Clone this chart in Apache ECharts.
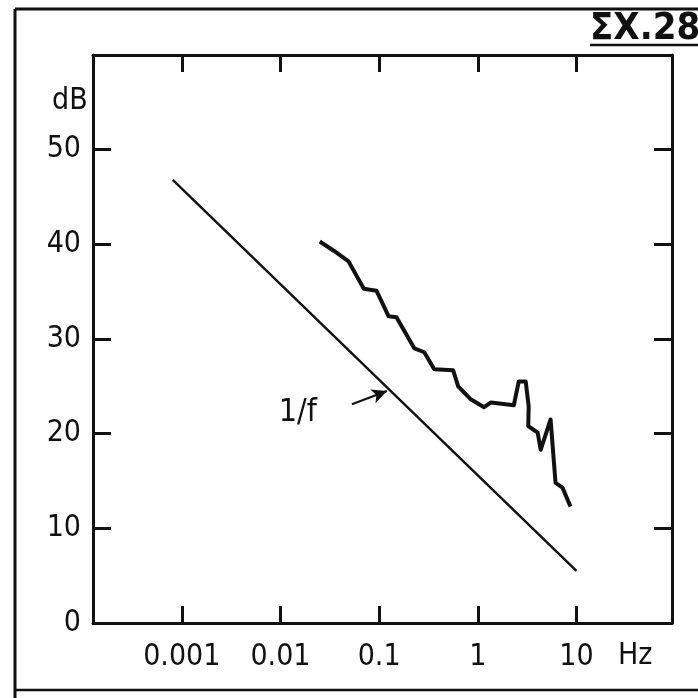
<!DOCTYPE html>
<html>
<head>
<meta charset="utf-8">
<script src="https://cdn.jsdelivr.net/npm/echarts@6/dist/echarts.min.js"></script>
<style>
html, body { margin: 0; padding: 0; background: #fff; }
#chart { width: 698px; height: 698px; }
</style>
</head>
<body>
<div id="chart"></div>
<script>
// measured noise spectrum (Hz, dB)
var noiseFreq = [0.025, 0.035, 0.049, 0.070, 0.094, 0.125, 0.150, 0.228, 0.287, 0.362, 0.563, 0.633, 0.855, 1.16, 1.36, 2.32, 2.60, 3.06, 3.28, 3.25, 4.05, 4.34, 5.47, 6.14, 7.22, 8.7];
var noiseDb   = [40.3, 39.3, 38.2, 35.3, 35.1, 32.4, 32.3, 29.0, 28.6, 26.8, 26.7, 25.0, 23.6, 22.8, 23.3, 23.0, 25.5, 25.5, 22.9, 20.8, 20.1, 18.3, 21.5, 14.8, 14.3, 12.3];
// 1/f reference line
var refFreq = [0.00081, 10];
var refDb   = [46.8, 5.5];
// arrow pointing at the 1/f line
var arrowFreq = [0.053, 0.12];
var arrowDb   = [23.1, 24.5];
var xTickValues = [0.001, 0.01, 0.1, 1, 10];
var xTickLabels = ['0.001', '0.01', '0.1', '1', '10'];
var yMax = 60;

var font = '"Liberation Sans Narrow", "DejaVu Sans Condensed", "Liberation Sans", sans-serif';
var ink = '#111';

function pairs(xs, ys) {
    var out = [];
    for (var i = 0; i < xs.length; i++) out.push([xs[i], ys[i]]);
    return out;
}
function xLabel(v) {
    for (var i = 0; i < xTickValues.length; i++) {
        if (Math.abs(Math.log10(v) - Math.log10(xTickValues[i])) < 1e-6) return xTickLabels[i];
    }
    return '';
}

function xAxisOpt(pos, showLabel) {
    return {
        type: 'log', logBase: 10,
        position: pos,
        min: 0.000126, max: 93,
        axisLine: { show: true, onZero: false, lineStyle: { color: ink, width: 3 } },
        axisTick: { show: true, inside: true, length: 17, customValues: xTickValues, lineStyle: { color: ink, width: 3 } },
        axisLabel: { show: showLabel, margin: 19, fontSize: 30, color: ink, fontFamily: font,
                     formatter: xLabel, customValues: xTickValues },
        splitLine: { show: false }
    };
}
function yAxisOpt(pos, showLabel) {
    return {
        type: 'value', position: pos,
        min: 0, max: yMax, interval: 10,
        axisLine: { show: true, onZero: false, lineStyle: { color: ink, width: 3 } },
        axisTick: { show: true, inside: true, length: 18, lineStyle: { color: ink, width: 3 } },
        axisLabel: { show: showLabel, margin: 12, fontSize: 30, color: ink, fontFamily: font,
                     formatter: function (v) { return v === yMax ? '' : String(v); } },
        splitLine: { show: false }
    };
}

var chart = echarts.init(document.getElementById('chart'));
chart.setOption({
    animation: false,
    backgroundColor: '#fff',
    grid: { left: 93, right: 26, top: 55, bottom: 75 },
    xAxis: [xAxisOpt('bottom', true), xAxisOpt('top', false)],
    yAxis: [yAxisOpt('left', true), yAxisOpt('right', false)],
    series: [
        {
            name: 'noise', type: 'line', xAxisIndex: 0, yAxisIndex: 0,
            data: pairs(noiseFreq, noiseDb),
            symbol: 'none',
            lineStyle: { color: ink, width: 4, join: 'round' }
        },
        {
            name: '1/f', type: 'line', xAxisIndex: 0, yAxisIndex: 0,
            data: pairs(refFreq, refDb),
            symbol: 'none',
            lineStyle: { color: ink, width: 2.4 },
            markLine: {
                silent: true,
                symbol: ['none', 'arrow'],
                symbolSize: [11, 15],
                label: { show: false },
                lineStyle: { color: ink, width: 2.2, type: 'solid' },
                data: [[{ coord: [arrowFreq[0], arrowDb[0]] }, { coord: [arrowFreq[1], arrowDb[1]] }]]
            },
            markPoint: {
                silent: true,
                symbol: 'circle', symbolSize: 1,
                itemStyle: { color: 'rgba(0,0,0,0)' },
                label: { show: true, position: 'inside', formatter: '1/f', fontSize: 32, color: ink, fontFamily: font },
                data: [{ coord: [0.015, 22.2] }]
            }
        }
    ],
    graphic: [
        { type: 'line', shape: { x1: 15, y1: 9, x2: 15, y2: 698 }, style: { stroke: ink, lineWidth: 3 } },
        { type: 'line', shape: { x1: 15, y1: 9, x2: 698, y2: 9 }, style: { stroke: ink, lineWidth: 3 } },
        { type: 'line', shape: { x1: 15, y1: 690, x2: 698, y2: 690 }, style: { stroke: ink, lineWidth: 2.5 } },
        { type: 'text', left: 52, top: 86, style: { text: 'dB', fill: ink, font: '30px ' + font } },
        { type: 'text', left: 618, top: 641, style: { text: 'Hz', fill: ink, font: '30px ' + font } },
        { type: 'text', left: 590, top: 10, style: { text: 'ΣX.28', fill: ink, font: 'bold 38px ' + font } },
        { type: 'line', shape: { x1: 590, y1: 45, x2: 698, y2: 45 }, style: { stroke: ink, lineWidth: 2.5 } }
    ]
});
</script>
</body>
</html>
